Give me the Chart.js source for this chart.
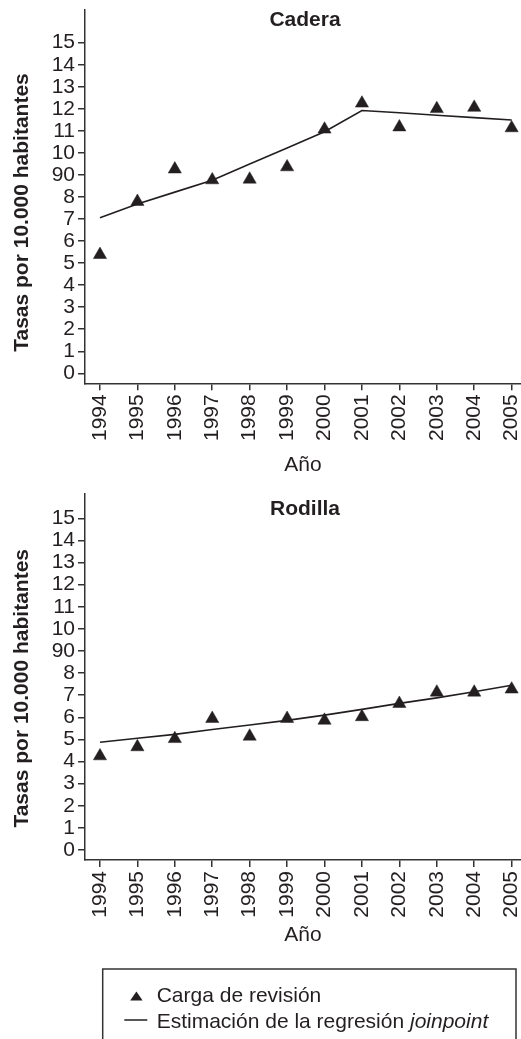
<!DOCTYPE html>
<html>
<head>
<meta charset="utf-8">
<script src="https://cdn.jsdelivr.net/npm/chart.js@4.4.1/dist/chart.umd.min.js"></script>
<style>
html,body{margin:0;padding:0;background:#fff;width:521px;height:1039px;overflow:hidden;}
canvas{position:absolute;left:0;}
#c1{top:0;}
#c2{top:484px;}
#legend{position:absolute;left:0;top:0;}
</style>
</head>
<body>
<canvas id="c1" width="521" height="480"></canvas>
<canvas id="c2" width="521" height="470"></canvas>
<svg id="legend" width="521" height="1039" xmlns="http://www.w3.org/2000/svg" font-family="'Liberation Sans', Arial, Helvetica, sans-serif" font-size="21" fill="#231f20">
  <rect x="102.7" y="969" width="413.3" height="100" fill="none" stroke="#333" stroke-width="1.5"/>
  <polygon points="136.4,991.5 130.2,1000.4 142.6,1000.4" fill="#231f20"/>
  <text x="156.7" y="1001.7">Carga de revisión</text>
  <line x1="124.3" y1="1020" x2="147.3" y2="1020" stroke="#231f20" stroke-width="1.5"/>
  <text x="156.7" y="1028">Estimación de la regresión <tspan font-style="italic">joinpoint</tspan></text>
</svg>
<script>
// ---- data ----
const years = [1994, 1995, 1996, 1997, 1998, 1999, 2000, 2001, 2002, 2003, 2004, 2005];
const yTickValues = [0, 1, 2, 3, 4, 5, 6, 7, 8, 9, 10, 11, 12, 13, 14, 15];
const yTickLabels = ['0', '1', '2', '3', '4', '5', '6', '7', '8', '90', '10', '11', '12', '13', '14', '15'];

const caderaRevision = [5.38, 7.79, 9.26, 8.77, 8.80, 9.36, 11.07, 12.25, 11.17, 12.0, 12.06, 11.13];
const caderaJoinpoint = [7.06, 7.68, 8.22, 8.76, 9.50, 10.22, 10.96, 11.92, 11.82, 11.71, 11.60, 11.49];

const rodillaRevision = [4.25, 4.66, 5.03, 5.94, 5.14, 5.94, 5.86, 6.02, 6.62, 7.13, 7.13, 7.27];
const rodillaJoinpoint = [4.87, 5.05, 5.23, 5.45, 5.65, 5.86, 6.10, 6.36, 6.63, 6.88, 7.16, 7.45];

const xLabel = 'Año';
const yLabel = 'Tasas por 10.000 habitantes';

// ---- styling ----
const INK = '#231f20';
const AXIS = '#333333';
const FONT = "'Liberation Sans', Arial, Helvetica, sans-serif";

const panelText = {
  id: 'panelText',
  afterDraw(chart, args, opts) {
    const ctx = chart.ctx;
    ctx.save();
    ctx.fillStyle = INK;
    ctx.font = 'bold 21px ' + FONT;
    ctx.textAlign = 'center';
    ctx.textBaseline = 'alphabetic';
    ctx.fillText(opts.title, opts.titleX, opts.titleBaseline);
    ctx.translate(opts.yTitleBaseline, opts.yTitleCenter);
    ctx.rotate(-Math.PI / 2);
    ctx.fillText(opts.yTitle, 0, 0);
    ctx.restore();
  }
};

function makeChart(id, title, revision, joinpoint, yMin, yMax, canvasH, areaBottom, xTitlePad, titleBaseline, yTitleCenter) {
  const pts = (arr) => years.map((y, i) => ({ x: y, y: arr[i] }));
  return new Chart(document.getElementById(id), {
    type: 'scatter',
    data: {
      datasets: [
        {
          label: 'Carga de revisión',
          data: pts(revision),
          pointStyle: 'triangle',
          pointRadius: 7.6,
          pointHoverRadius: 7.6,
          backgroundColor: INK,
          borderColor: INK,
          borderWidth: 0.5,
          showLine: false,
          clip: 10
        },
        {
          label: 'Estimación de la regresión joinpoint',
          data: pts(joinpoint),
          showLine: true,
          pointRadius: 0,
          borderColor: INK,
          borderWidth: 1.6,
          tension: 0,
          fill: false
        }
      ]
    },
    options: {
      responsive: false,
      animation: false,
      devicePixelRatio: 1,
      layout: { autoPadding: false, padding: { top: 9.3, left: 0, right: 0, bottom: 0 } },
      plugins: {
        legend: { display: false },
        tooltip: { enabled: false },
        title: { display: false },
        panelText: {
          title: title,
          titleX: 305,
          titleBaseline: titleBaseline,
          yTitle: yLabel,
          yTitleBaseline: 28.3,
          yTitleCenter: yTitleCenter
        }
      },
      scales: {
        x: {
          type: 'linear',
          min: 1993.6,
          max: 2005.25,
          afterBuildTicks: (s) => { s.ticks = years.map(v => ({ value: v })); },
          afterFit: (s) => { s.height = canvasH - areaBottom; s.paddingLeft = 0; s.paddingRight = 0; },
          border: { display: true, color: AXIS, width: 1.5 },
          grid: { display: true, drawOnChartArea: false, drawTicks: true, tickLength: 7, color: AXIS, lineWidth: 1.5 },
          ticks: {
            autoSkip: false,
            minRotation: 90,
            maxRotation: 90,
            padding: 4,
            color: INK,
            font: { family: FONT, size: 21 },
            callback: (v) => String(v)
          },
          title: {
            display: true,
            text: xLabel,
            color: INK,
            font: { family: FONT, size: 21 },
            padding: { top: 0, bottom: xTitlePad }
          }
        },
        y: {
          type: 'linear',
          min: yMin,
          max: yMax,
          afterBuildTicks: (s) => { s.ticks = yTickValues.map(v => ({ value: v })); },
          afterFit: (s) => { s.width = 85; s.paddingTop = 0; s.paddingBottom = 0; },
          border: { display: true, color: AXIS, width: 1.5 },
          grid: { display: true, drawOnChartArea: false, drawTicks: true, tickLength: 7, color: AXIS, lineWidth: 1.5 },
          ticks: {
            autoSkip: false,
            padding: 3,
            color: INK,
            font: { family: FONT, size: 21 },
            callback: (v) => {
              const i = yTickValues.indexOf(v);
              return i >= 0 ? yTickLabels[i] : '';
            }
          }
        }
      }
    },
    plugins: [panelText]
  });
}

makeChart('c1', 'Cadera', caderaRevision, caderaJoinpoint, -0.454, 16.515, 480, 383.3, 2.4, 26, 212.5);
makeChart('c2', 'Rodilla', rodillaRevision, rodillaJoinpoint, -0.452, 16.13, 470, 376, 6.4, 31, 204.3);
</script>
</body>
</html>
